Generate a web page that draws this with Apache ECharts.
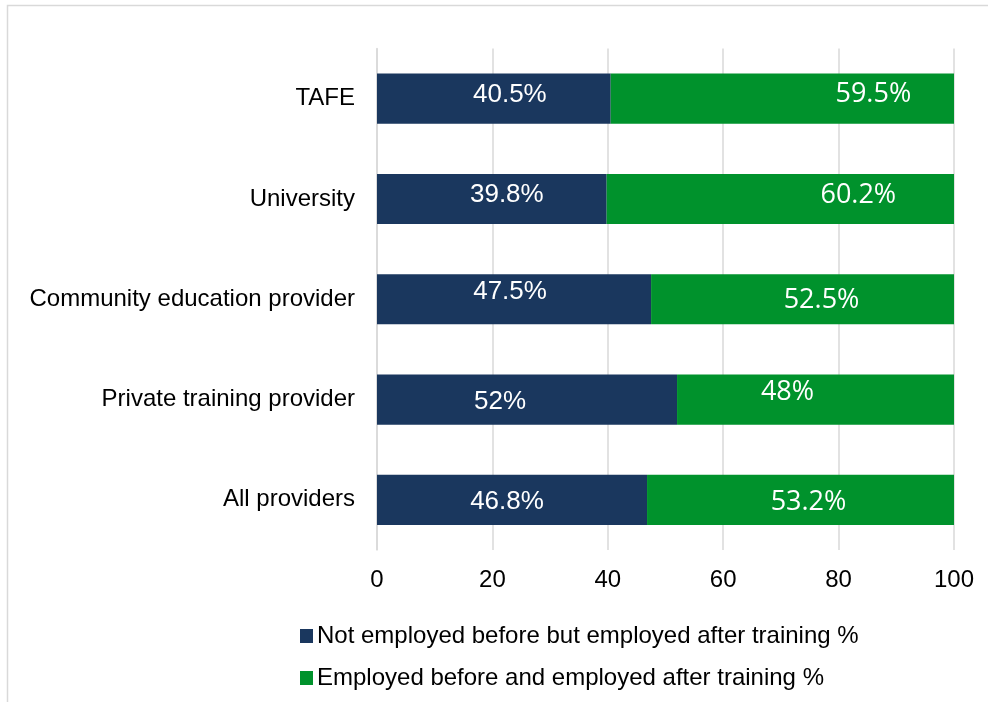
<!DOCTYPE html>
<html>
<head>
<meta charset="utf-8">
<script src="https://cdn.jsdelivr.net/npm/echarts@6/dist/echarts.min.js"></script>
<style>
html,body{margin:0;padding:0;background:#fff;}
#chart{width:988px;height:702px;}
</style>
</head>
<body>
<div id="chart"></div>
<script>
const categories = ['TAFE', 'University', 'Community education provider', 'Private training provider', 'All providers'];
const notEmployedBefore = [40.5, 39.8, 47.5, 52, 46.8];
const employedBefore = [59.5, 60.2, 52.5, 48, 53.2];
const seriesNames = ['Not employed before but employed after training %', 'Employed before and employed after training %'];
const xTicks = [0, 20, 40, 60, 80, 100];

// label nudges (style only), [dx, dy] in px
const navyNudge = [[16, -4], [15, -4], [-4, -7], [-27, 2], [-5, 2]];
const greenNudge = [[91, -4], [78, -4], [19, 1], [-28, -7.5], [8, 2]];

const NAVY = '#1a375e';
const GREEN = '#00922c';
const GRID = '#d9d9d9';

function buildData(values, nudges) {
  return values.map((v, i) => ({
    value: v,
    label: { offset: nudges[i] }
  }));
}

const chart = echarts.init(document.getElementById('chart'), null, { renderer: 'canvas' });
chart.setOption({
  animation: false,
  backgroundColor: '#ffffff',
  graphic: [{
    type: 'rect',
    shape: { x: 7.5, y: 5.5, width: 2000, height: 2000 },
    style: { fill: 'none', stroke: GRID, lineWidth: 1.5 },
    silent: true
  }],
  grid: { left: 377, right: 34, top: 48.5, bottom: 152, containLabel: false },
  legend: {
    orient: 'vertical',
    left: 300,
    top: 624,
    padding: 0,
    itemGap: 18,
    itemWidth: 13,
    itemHeight: 14,
    icon: 'rect',
    data: seriesNames,
    textStyle: { fontFamily: 'Liberation Sans, Arial, sans-serif', fontSize: 24, color: '#000', padding: [0, 0, 0, -1] }
  },
  xAxis: {
    type: 'value',
    min: xTicks[0],
    max: xTicks[xTicks.length - 1],
    interval: xTicks[1] - xTicks[0],
    axisLine: { show: false },
    axisTick: { show: false },
    splitLine: { show: true, lineStyle: { color: GRID, width: 1.5 } },
    axisLabel: { margin: 18, color: '#000', fontFamily: 'Liberation Sans, Arial, sans-serif', fontSize: 24 }
  },
  yAxis: {
    type: 'category',
    data: categories,
    inverse: true,
    axisLine: { show: true, lineStyle: { color: GRID, width: 1.5 } },
    axisTick: { show: false },
    axisLabel: { margin: 22, color: '#000', fontFamily: 'Liberation Sans, Arial, sans-serif', fontSize: 24 }
  },
  series: [
    {
      name: seriesNames[0],
      type: 'bar',
      stack: 'total',
      barCategoryGap: '50%',
      itemStyle: { color: NAVY },
      label: {
        show: true, position: 'inside', color: '#fff',
        fontFamily: 'Liberation Sans, Arial, sans-serif', fontSize: 26,
        formatter: p => p.value + '%'
      },
      data: buildData(notEmployedBefore, navyNudge)
    },
    {
      name: seriesNames[1],
      type: 'bar',
      stack: 'total',
      barCategoryGap: '50%',
      itemStyle: { color: GREEN },
      label: {
        show: true, position: 'inside', color: '#fff',
        fontFamily: 'Open Sans, Noto Sans, sans-serif', fontSize: 27,
        formatter: p => p.value + '%'
      },
      data: buildData(employedBefore, greenNudge)
    }
  ]
});
</script>
</body>
</html>
